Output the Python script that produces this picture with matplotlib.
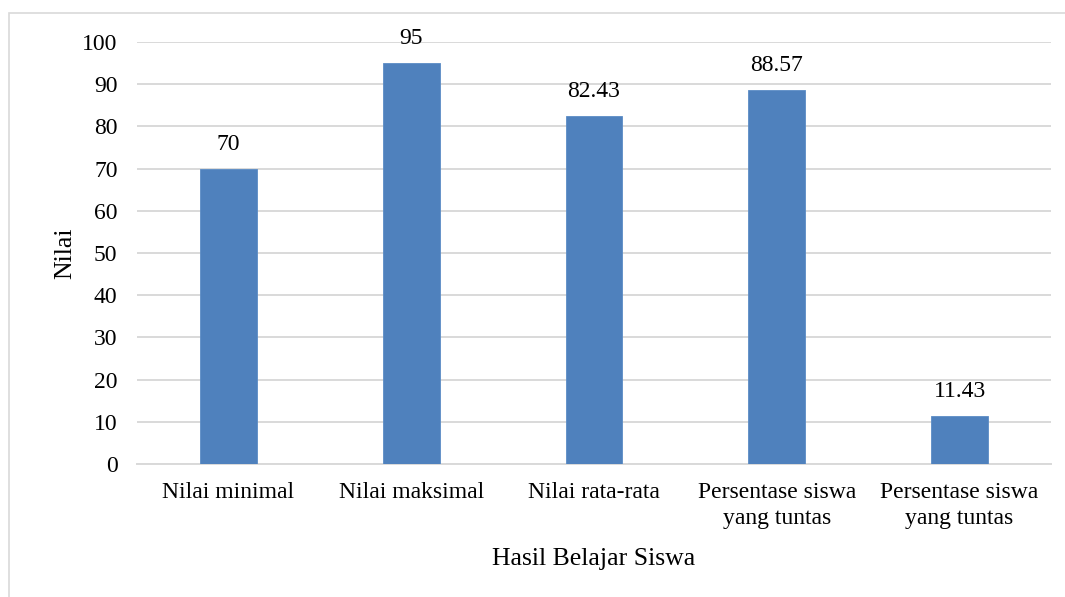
import matplotlib.pyplot as plt
from matplotlib.patches import Rectangle

categories = ["Nilai minimal", "Nilai maksimal", "Nilai rata-rata",
              "Persentase siswa\nyang tuntas", "Persentase siswa\nyang tuntas"]
values = [70, 95, 82.43, 88.57, 11.43]
value_labels = ["70", "95", "82.43", "88.57", "11.43"]
y_ticks = [0, 10, 20, 30, 40, 50, 60, 70, 80, 90, 100]

plt.rcParams['font.family'] = ['Liberation Serif', 'DejaVu Serif']

fig = plt.figure(figsize=(10.65, 5.97), dpi=100)
ax = fig.add_axes([137 / 1065, 1 - 464 / 597, (1051 - 137) / 1065, (464 - 42) / 597])

# light frame around the chart area, cut off at right and bottom like the source
fig.patches.append(Rectangle((9 / 1065, -0.05), 1.2, 1 - 13 / 597 + 0.05,
                             transform=fig.transFigure, fill=False,
                             edgecolor='#d9d9d9', linewidth=1.2))

x = range(len(categories))
ax.bar(x, values, width=0.31, color='#4f81bd', edgecolor='#5b8cc6', linewidth=0.6, zorder=3)

for xi, v, lab in zip(x, values, value_labels):
    ax.annotate(lab, (xi, v), xytext=(0, 10), textcoords='offset points',
                ha='center', va='bottom', fontsize=17, color='#000000')

ax.set_xlim(-0.5, len(categories) - 0.5)
ax.set_ylim(0, 100)
ax.set_yticks(y_ticks)
ax.set_xticks(list(x))
ax.set_xticklabels(categories, fontsize=17, linespacing=1.3)
ax.tick_params(axis='y', labelsize=17, length=0, pad=14)
ax.tick_params(axis='x', length=0, pad=13)

ax.grid(axis='y', color='#d9d9d9', linewidth=1.4, zorder=0)
for s in ['top', 'right', 'left']:
    ax.spines[s].set_visible(False)
ax.spines['bottom'].set_color('#d9d9d9')
ax.spines['bottom'].set_linewidth(1.4)

ax.set_ylabel("Nilai", fontsize=18.5, labelpad=4)
ax.set_xlabel("Hasil Belajar Siswa", fontsize=18.5, labelpad=14)

fig.savefig("out.png", dpi=100)
